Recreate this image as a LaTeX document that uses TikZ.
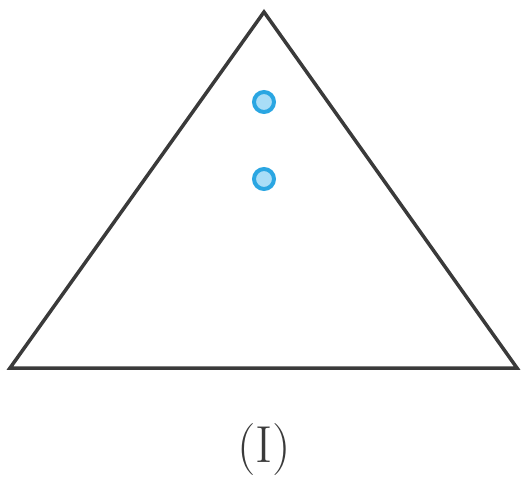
\documentclass[tikz,border=0pt]{standalone}
\usetikzlibrary{calc}
\definecolor{edgegray}{HTML}{3A3A3A}
\definecolor{dotring}{HTML}{2AA6E2}
\definecolor{dotfill}{HTML}{A9DDF7}
\tikzset{
  tri/.style={draw=edgegray, line width=3.5pt, line join=miter},
  dotmark/.style={circle, draw=dotring, fill=dotfill, line width=4pt, minimum size=20pt, inner sep=0pt},
  lbl/.style={text=edgegray, font=\fontsize{52}{60}\selectfont}
}
\begin{document}
\begin{tikzpicture}[x=1pt,y=1pt]
\useasboundingbox (0,0) rectangle (521,488);
\coordinate (apex) at (264,476);
\coordinate (bl) at (10,120);
\coordinate (br) at (517,120);
\draw[tri] (bl) -- (apex) -- (br) -- cycle;
\node[dotmark] (d1) at (264,386) {};
\node[dotmark] (d2) at (264,309) {};
\node[lbl] (label) at (264,38) {(I)};
\end{tikzpicture}
\end{document}
